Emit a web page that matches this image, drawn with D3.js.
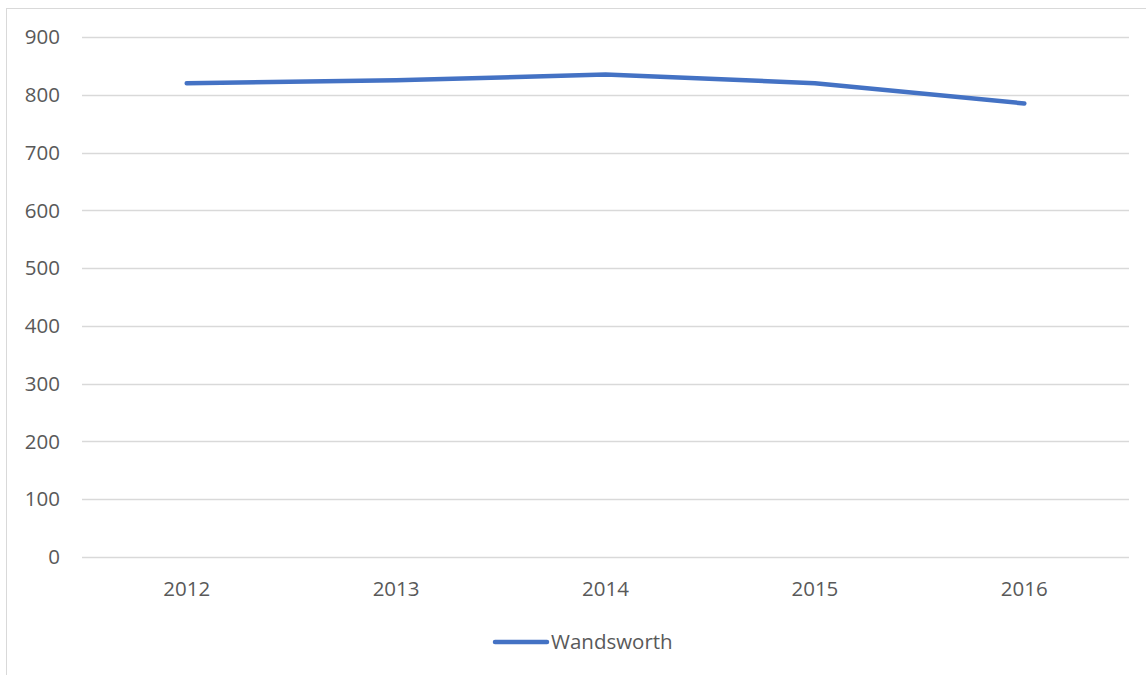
<!DOCTYPE html>
<html>
<head>
<meta charset="utf-8">
<script src="https://cdn.jsdelivr.net/npm/d3@7"></script>
<style>
  body { margin: 0; background: #fff; }
  text { font-family: "Open Sans", "Noto Sans", sans-serif; fill: #595959; }
</style>
</head>
<body>
<script>
const years = ["2012", "2013", "2014", "2015", "2016"];
const wandsworth = [820, 825, 835, 820, 785];
const yTicks = [0, 100, 200, 300, 400, 500, 600, 700, 800, 900];
const seriesName = "Wandsworth";

const W = 1146, H = 675;
const plotLeft = 82, plotRight = 1129, plotTop = 37, plotBottom = 557;
const fontSize = "20.5px";

const svg = d3.select("body").append("svg")
    .attr("width", W)
    .attr("height", H);

// chart frame
svg.append("rect")
    .attr("x", 6.5).attr("y", 8.5)
    .attr("width", W + 10).attr("height", H + 10)
    .attr("fill", "none")
    .attr("stroke", "#d9d9d9")
    .attr("stroke-width", 1);

const x = d3.scaleBand().domain(years).range([plotLeft, plotRight]);
const y = d3.scaleLinear().domain([0, 900]).range([plotBottom, plotTop]);

// gridlines
svg.append("g")
  .selectAll("line")
  .data(yTicks).enter()
  .append("line")
    .attr("x1", plotLeft).attr("x2", plotRight)
    .attr("y1", d => Math.round(y(d)) + 0.5)
    .attr("y2", d => Math.round(y(d)) + 0.5)
    .attr("stroke", "#d9d9d9")
    .attr("stroke-width", 1.3);

// y labels
svg.append("g")
  .selectAll("text")
  .data(yTicks).enter()
  .append("text")
    .attr("x", 60)
    .attr("y", d => y(d))
    .attr("dy", "0.35em")
    .attr("text-anchor", "end")
    .style("font-size", fontSize)
    .text(d => d);

// x labels
svg.append("g")
  .selectAll("text")
  .data(years).enter()
  .append("text")
    .attr("x", d => x(d) + x.bandwidth() / 2)
    .attr("y", 589)
    .attr("dy", "0.35em")
    .attr("text-anchor", "middle")
    .style("font-size", fontSize)
    .text(d => d);

// series line
const line = d3.line()
    .x((d, i) => x(years[i]) + x.bandwidth() / 2)
    .y(d => y(d));

svg.append("path")
    .datum(wandsworth)
    .attr("d", line)
    .attr("fill", "none")
    .attr("stroke", "#4472c4")
    .attr("stroke-width", 4.5)
    .attr("stroke-linecap", "round")
    .attr("stroke-linejoin", "round");

// legend
const lg = svg.append("g");
lg.append("line")
    .attr("x1", 495).attr("x2", 547)
    .attr("y1", 642).attr("y2", 642)
    .attr("stroke", "#4472c4")
    .attr("stroke-width", 4.5)
    .attr("stroke-linecap", "round");
lg.append("text")
    .attr("x", 551)
    .attr("y", 642)
    .attr("dy", "0.35em")
    .style("font-size", fontSize)
    .text(seriesName);
</script>
</body>
</html>
